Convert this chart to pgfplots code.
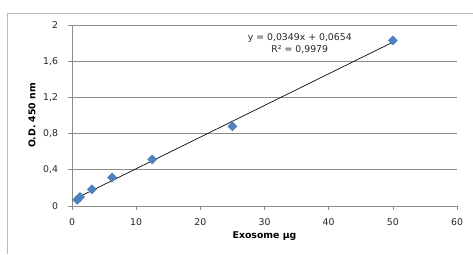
\documentclass[border=0pt]{standalone}
\usepackage{pgfplots}
\usepackage{pgfplotstable}
\pgfplotsset{compat=1.18}
\usepackage{fontspec}
\setmainfont{DejaVu Sans}
\definecolor{xlblue}{HTML}{4F81BD}
\definecolor{gridgray}{HTML}{8C8C8C}
\pgfplotstableread{
X Y
0.8 0.068
1.25 0.100
3.1 0.185
6.25 0.315
12.5 0.515
25 0.88
50 1.83
}\datatable
\begin{document}
\begin{tikzpicture}
\useasboundingbox (0pt,0pt) rectangle (354.75pt,190.5pt);
\draw[gridgray!60, line width=0.6pt] (5.25pt,0pt) -- (5.25pt,180.75pt) -- (354.75pt,180.75pt);
\begin{axis}[
  at={(54pt,36pt)}, anchor=origin,
  scale only axis,
  width=288.75pt, height=135.75pt,
  xmin=0, xmax=60, ymin=0, ymax=2,
  xtick={0,10,...,60},
  ytick={0,0.4,0.8,1.2,1.6,2},
  axis x line*=bottom, axis y line*=left,
  axis line style={gridgray, -},
  tick style={gridgray, line width=0.5pt},
  tick align=outside,
  major tick length=3pt,
  ymajorgrids,
  grid style={gridgray, line width=0.5pt},
  /pgf/number format/use comma,
  /pgf/number format/assume math mode=true,
  ticklabel style={font=\fontsize{7}{8}\selectfont, text=black!85},
  xticklabel style={yshift=-3pt},
  yticklabel style={xshift=-4pt},
  xlabel={\textbf{Exosome µg}},
  ylabel={\textbf{O.D. 450 nm}},
  every axis x label/.style={font=\fontsize{7}{8}\selectfont, at={(axis description cs:0.5,-0.166)}, anchor=center},
  every axis y label/.style={font=\fontsize{7}{8}\selectfont, at={(axis description cs:-0.104,0.5)}, anchor=center, rotate=90},
  clip=false,
]
\addplot[black, line width=0.5pt] table[x=X, y={create col/linear regression={y=Y}}] {\datatable};
\addplot[only marks, mark=square*, mark size=2.4pt, mark options={rotate=45, fill=xlblue, draw=xlblue}] table[x=X, y=Y] {\datatable};
\node[font=\fontsize{7}{8}\selectfont, text=black!85] at (axis cs:35.5,1.856) {y = 0,0349x + 0,0654};
\node[font=\fontsize{7}{8}\selectfont, text=black!85] at (axis cs:35.5,1.724) {R² = 0,9979};
\end{axis}
\end{tikzpicture}
\end{document}
